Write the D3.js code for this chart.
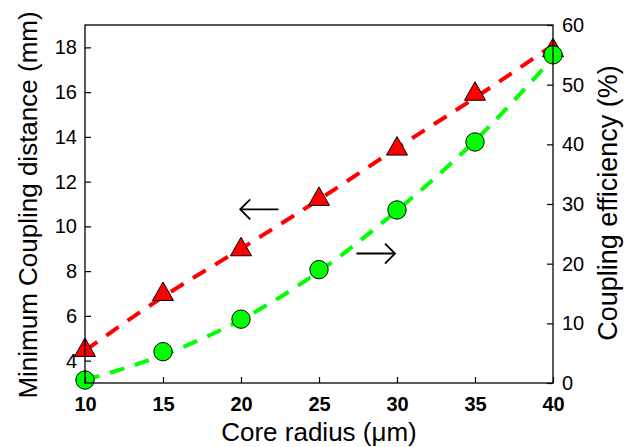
<!DOCTYPE html>
<html>
<head>
<meta charset="utf-8">
<script src="https://cdn.jsdelivr.net/npm/d3@7"></script>
<style>
  html, body { margin: 0; padding: 0; background: #fff; }
  svg { display: block; font-family: "Liberation Sans", Arial, Helvetica, sans-serif; }
</style>
</head>
<body>
<svg id="chart" width="633" height="447"></svg>
<script>
// ---- data ----
const coreRadius = [10, 15, 20, 25, 30, 35, 40];
const couplingDistance = [4.6, 7.1, 9.1, 11.35, 13.6, 16.05, 18.0];   // mm (left axis, triangles)
const couplingEfficiency = [0.5, 5.25, 10.7, 19.0, 29.0, 40.4, 55.0];  // % (right axis, circles)
const distanceFit = [4.45, 6.85, 9.0, 11.2, 13.5, 15.75, 18.1];        // dashed red fit
const efficiencyFit = [0.5, 4.7, 10.6, 18.7, 28.9, 40.6, 54.5];        // dashed green fit
const xTicks = [10, 15, 20, 25, 30, 35, 40];
const leftTicks = [4, 6, 8, 10, 12, 14, 16, 18];
const rightTicks = [0, 10, 20, 30, 40, 50, 60];
const xLabel = "Core radius (\u03bcm)";
const leftLabel = "Minimum Coupling distance (mm)";
const rightLabel = "Coupling efficiency (%)";

// ---- layout ----
const W = 633, H = 447;
const m = { left: 85, right: 80, top: 25, bottom: 64 };
const svg = d3.select("#chart");

const x = d3.scaleLinear().domain([10, 40]).range([m.left, W - m.right]);
const yL = d3.scaleLinear().domain([3, 19]).range([H - m.bottom, m.top]);
const yR = d3.scaleLinear().domain([0, 60]).range([H - m.bottom, m.top]);

const red = "#ff0000", green = "#00ff00";

// fit lines
const redLine = d3.line().x((d, i) => x(coreRadius[i])).y(d => yL(d)).curve(d3.curveMonotoneX);
const greenLine = d3.line().x((d, i) => x(coreRadius[i])).y(d => yR(d)).curve(d3.curveMonotoneX);

svg.append("path").attr("d", redLine(distanceFit))
  .attr("fill", "none").attr("stroke", red).attr("stroke-width", 4)
  .attr("stroke-dasharray", "15,11");

// triangles
const tw = 21, th = 18.5;
const triPath = `M0,${-th/2}L${tw/2},${th/2}L${-tw/2},${th/2}Z`;
svg.append("g").selectAll("path").data(couplingDistance).join("path")
  .attr("d", triPath)
  .attr("transform", (d, i) => `translate(${x(coreRadius[i])},${yL(d)})`)
  .attr("fill", red).attr("stroke", "#000").attr("stroke-width", 1);

svg.append("path").attr("d", greenLine(efficiencyFit))
  .attr("fill", "none").attr("stroke", green).attr("stroke-width", 4)
  .attr("stroke-dasharray", "15,11");

svg.append("g").selectAll("circle").data(couplingEfficiency).join("circle")
  .attr("cx", (d, i) => x(coreRadius[i])).attr("cy", d => yR(d)).attr("r", 9.2)
  .attr("fill", green).attr("stroke", "#000").attr("stroke-width", 1);

// axes
const axisStyle = g => {
  g.select(".domain").remove();
  g.selectAll(".tick line").attr("stroke", "#000").attr("stroke-width", 1.2);
  g.selectAll(".tick text").attr("fill", "#000").attr("font-family", '"Liberation Sans", Arial, sans-serif');
};

svg.append("g").attr("transform", `translate(0,${H - m.bottom})`)
  .call(d3.axisBottom(x).tickValues(xTicks).tickSize(-6).tickPadding(14).tickFormat(d3.format("d")))
  .call(axisStyle)
  .call(g => g.selectAll(".tick text").attr("font-size", 20).attr("font-weight", "bold"));

svg.append("g").attr("transform", `translate(${m.left},0)`)
  .call(d3.axisLeft(yL).tickValues(leftTicks).tickSize(-6).tickPadding(8).tickFormat(d3.format("d")))
  .call(axisStyle)
  .call(g => g.selectAll(".tick text").attr("font-size", 20));

svg.append("g").attr("transform", `translate(${W - m.right},0)`)
  .call(d3.axisRight(yR).tickValues(rightTicks).tickSize(-6).tickPadding(9).tickFormat(d3.format("d")))
  .call(axisStyle)
  .call(g => g.selectAll(".tick text").attr("font-size", 20));

// box
svg.append("rect").attr("x", m.left).attr("y", m.top)
  .attr("width", W - m.left - m.right).attr("height", H - m.top - m.bottom)
  .attr("fill", "none").attr("stroke", "#000").attr("stroke-width", 1.3);

// arrows (annotation, in data coordinates)
function arrow(x0, x1, yPix, dir) {
  const tip = dir < 0 ? x0 : x1;
  const g = svg.append("g").attr("stroke", "#000").attr("stroke-width", 1.8).attr("fill", "none");
  g.append("line").attr("x1", x0).attr("x2", x1).attr("y1", yPix).attr("y2", yPix);
  g.append("path").attr("d", `M${tip - dir * 10},${yPix - 10}L${tip},${yPix}L${tip - dir * 10},${yPix + 10}`);
}
arrow(x(19.95), x(22.4), yL(10.76), -1);
arrow(x(27.4), x(29.87), yR(21.7), 1);

// labels
svg.append("text").attr("x", (m.left + W - m.right) / 2).attr("y", 441)
  .attr("text-anchor", "middle").attr("font-size", 26).text(xLabel);
svg.append("text").attr("transform", `translate(37,205) rotate(-90)`)
  .attr("text-anchor", "middle").attr("font-size", 26).text(leftLabel);
svg.append("text").attr("transform", `translate(617,203) rotate(-90)`)
  .attr("text-anchor", "middle").attr("font-size", 27).text(rightLabel);
</script>
</body>
</html>
